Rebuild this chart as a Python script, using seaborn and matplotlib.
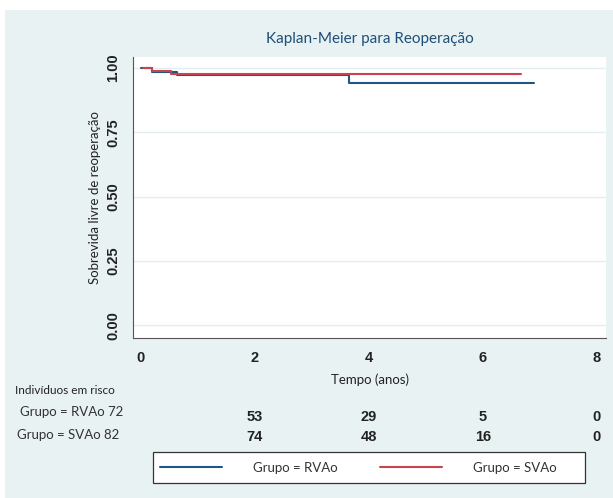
import pandas as pd
import matplotlib
matplotlib.use("Agg")
import matplotlib.pyplot as plt
import seaborn as sns
from matplotlib.patches import Rectangle
from matplotlib.transforms import blended_transform_factory

# ---- data ------------------------------------------------------------------
rvao_time = [0.0, 0.19, 0.63, 3.65, 6.90]
rvao_surv = [1.0, 0.986, 0.972, 0.940, 0.940]
svao_time = [0.03, 0.19, 0.53, 6.67]
svao_surv = [1.0, 0.988, 0.976, 0.976]

groups = ["Grupo = RVAo", "Grupo = SVAo"]
risk_times = [2, 4, 6, 8]
risk_rvao = [53, 29, 5, 0]
risk_svao = [74, 48, 16, 0]
start_n = [72, 82]

x_ticks = [0, 2, 4, 6, 8]
y_ticks = [0.0, 0.25, 0.5, 0.75, 1.0]

df = pd.concat([
    pd.DataFrame({"t": rvao_time, "s": rvao_surv, "g": groups[0]}),
    pd.DataFrame({"t": svao_time, "s": svao_surv, "g": groups[1]}),
])

# ---- style ------------------------------------------------------------------
bg = "#e8f2f3"
blue = "#1f5686"
red = "#c8444f"
W, H = 613, 498

sns.set_style("white")
plt.rcParams["font.family"] = ["Lato", "DejaVu Sans"]

fig = plt.figure(figsize=(W / 100, H / 100), dpi=100, facecolor=bg)
# white strips at the top and left edge of the screenshot
fig.patches.append(Rectangle((0, 1 - 10 / H), 1, 10 / H, transform=fig.transFigure,
                             facecolor="white", edgecolor="none", zorder=-1))
fig.patches.append(Rectangle((0, 0), 5 / W, 1, transform=fig.transFigure,
                             facecolor="white", edgecolor="none", zorder=-1))

left, right, top, bottom = 133, 606, 57, 338
ax = fig.add_axes([left / W, 1 - bottom / H, (right - left) / W, (bottom - top) / H])
ax.set_facecolor("white")

sns.lineplot(data=df, x="t", y="s", hue="g", palette=[blue, red],
             drawstyle="steps-post", estimator=None, sort=False,
             linewidth=1.5, legend=False, ax=ax)

ax.set_xlim(-0.14, 8.16)
ax.set_ylim(-0.05, 1.043)
ax.set_xticks(x_ticks)
ax.set_xticklabels([str(v) for v in x_ticks])
ax.set_yticks(y_ticks)
ax.set_yticklabels([f"{v:.2f}" for v in y_ticks], rotation=90, va="center")
for lab in ax.get_xticklabels() + ax.get_yticklabels():
    lab.set_fontfamily("Liberation Sans")
    lab.set_fontweight("bold")
    lab.set_fontsize(10.5)
    lab.set_color("#222222")

ax.grid(axis="y", color="#e3eef0", linewidth=1.0)
ax.set_axisbelow(True)
for side in ["top", "right"]:
    ax.spines[side].set_visible(False)
for side in ["left", "bottom"]:
    ax.spines[side].set_color("#555555")
    ax.spines[side].set_linewidth(0.8)
ax.tick_params(axis="both", direction="out", length=4, width=0.8, color="#555555", pad=5)

ax.set_xlabel("")
ax.set_ylabel("Sobrevida livre de reoperação", fontsize=9.5, color="#222222", labelpad=4)
ax.set_title("Kaplan-Meier para Reoperação", fontsize=11, color="#1f4e79", pad=10)

fig.text(370 / W, 1 - 380 / H, "Tempo (anos)", ha="center", va="center",
         fontsize=9.5, color="#222222")

# ---- number at risk table --------------------------------------------------
fig.text(15 / W, 1 - 390 / H, "Indivíduos em risco", ha="left", va="center",
         fontsize=8.5, color="#222222")
fig.text(20 / W, 1 - 412 / H, f"{groups[0]} {start_n[0]}", ha="left", va="center",
         fontsize=9.5, color="#333333")
fig.text(17 / W, 1 - 435 / H, f"{groups[1]} {start_n[1]}", ha="left", va="center",
         fontsize=9.5, color="#333333")

tr = blended_transform_factory(ax.transData, fig.transFigure)
for t, a, b in zip(risk_times, risk_rvao, risk_svao):
    ax.text(t, 1 - 417 / H, str(a), transform=tr, ha="center", va="center",
            fontfamily="Liberation Sans", fontweight="bold", fontsize=10.5,
            color="#222222", clip_on=False)
    ax.text(t, 1 - 437 / H, str(b), transform=tr, ha="center", va="center",
            fontfamily="Liberation Sans", fontweight="bold", fontsize=10.5,
            color="#222222", clip_on=False)

# ---- legend ----------------------------------------------------------------
fig.patches.append(Rectangle((153 / W, 1 - 483 / H), (585 - 153) / W, 31 / H,
                             transform=fig.transFigure, facecolor="white",
                             edgecolor="#333333", linewidth=0.9, zorder=1))
handles = [plt.Line2D([], [], color=blue, linewidth=1.5),
           plt.Line2D([], [], color=red, linewidth=1.5)]
leg = fig.legend(handles, groups, ncol=2, loc="center left",
                 bbox_to_anchor=(160 / W, 1 - 467.5 / H),
                 frameon=False, fontsize=9.5,
                 handlelength=4.7, handletextpad=2.35, columnspacing=3.2,
                 borderaxespad=0, borderpad=0)
leg.set_zorder(2)
for txt in leg.get_texts():
    txt.set_color("#333333")

fig.savefig("out.png", dpi=100, facecolor=bg)
